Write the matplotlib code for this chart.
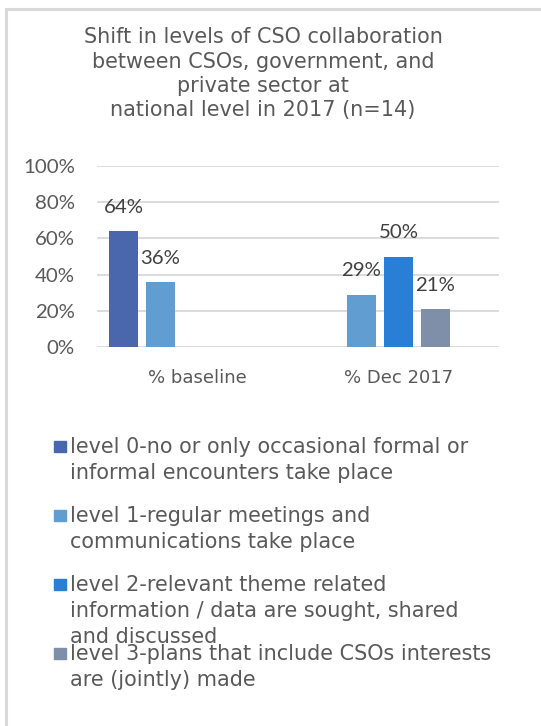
import matplotlib
matplotlib.use("Agg")
import matplotlib.pyplot as plt
from matplotlib.patches import Rectangle
import numpy as np

# ---- data ----
categories = ["% baseline", "% Dec 2017"]
series_names = [
    "level 0-no or only occasional formal or\ninformal encounters take place",
    "level 1-regular meetings and\ncommunications take place",
    "level 2-relevant theme related\ninformation / data are sought, shared\nand discussed",
    "level 3-plans that include CSOs interests\nare (jointly) made",
]
level0 = [64, 0]
level1 = [36, 29]
level2 = [0, 50]
level3 = [0, 21]
series_values = [level0, level1, level2, level3]
colors = ["#4A66AC", "#629DD1", "#297FD5", "#7F8FA9"]
y_ticks = [0, 20, 40, 60, 80, 100]
y_tick_labels = ["0%", "20%", "40%", "60%", "80%", "100%"]
title_lines = [
    "Shift in levels of CSO collaboration",
    "between CSOs, government, and",
    "private sector at",
    "national level in 2017 (n=14)",
]

TEXT = "#595959"
GRID = "#D9D9D9"
W, H = 541, 726
DPI = 100
MAIN_FONT = "DejaVu Sans"
NUM_FONT = "Lato"
MAIN_SIZE = 14.95

fig = plt.figure(figsize=(W / DPI, H / DPI), dpi=DPI)


def fx(px):
    return px / W


def fy(py):
    return 1 - py / H


# chart area border
fig.patches.append(Rectangle((fx(6), fy(760)), fx(600), fy(9) - fy(760),
                             transform=fig.transFigure, fill=False,
                             edgecolor=GRID, linewidth=2.2))

# title
title_baselines = [43, 68, 92, 116]
for line, yb in zip(title_lines, title_baselines):
    fig.text(fx(263), fy(yb), line, ha="center", va="baseline",
             fontsize=MAIN_SIZE, color=TEXT, family=MAIN_FONT)

# plot area
ax = fig.add_axes([fx(97), fy(347), fx(499) - fx(97), fy(166) - fy(347)])
x = np.arange(len(categories))
pitch = 0.184
bar_w = 0.146
for k, (vals, col) in enumerate(zip(series_values, colors)):
    xs = x + (k - 2) * pitch
    bars = ax.bar(xs, vals, width=bar_w, color=col, zorder=3)
    for b, v in zip(bars, vals):
        if v > 0:
            ax.annotate(f"{v}%", (b.get_x() + b.get_width() / 2, v),
                        xytext=(0, 13), textcoords="offset points",
                        ha="center", va="baseline", fontsize=14.7,
                        color="#404040", family=NUM_FONT)

ax.set_xlim(-0.5, 1.5)
ax.set_ylim(0, 100)
ax.set_yticks(y_ticks)
ax.set_yticklabels(y_tick_labels, family=NUM_FONT, fontsize=14.7, color=TEXT)
ax.set_xticks(x)
ax.set_xticklabels(categories, family=MAIN_FONT, fontsize=13, color=TEXT)
ax.tick_params(axis="y", length=0, pad=16)
ax.tick_params(axis="x", length=0, pad=16)
ax.grid(axis="y", color=GRID, linewidth=1.3, zorder=0)
for s in ax.spines.values():
    s.set_visible(False)

# legend
entry_first_baselines = [453, 522, 591, 660]
line_pitch = 26
for name, col, yb in zip(series_names, colors, entry_first_baselines):
    fig.patches.append(Rectangle((fx(54), fy(yb - 1)), fx(12), fy(441) - fy(452),
                                 transform=fig.transFigure, color=col))
    for i, line in enumerate(name.split("\n")):
        fig.text(fx(70), fy(yb + i * line_pitch), line, ha="left",
                 va="baseline", fontsize=MAIN_SIZE, color=TEXT, family=MAIN_FONT)

fig.savefig("out.png", dpi=DPI, facecolor="white")
